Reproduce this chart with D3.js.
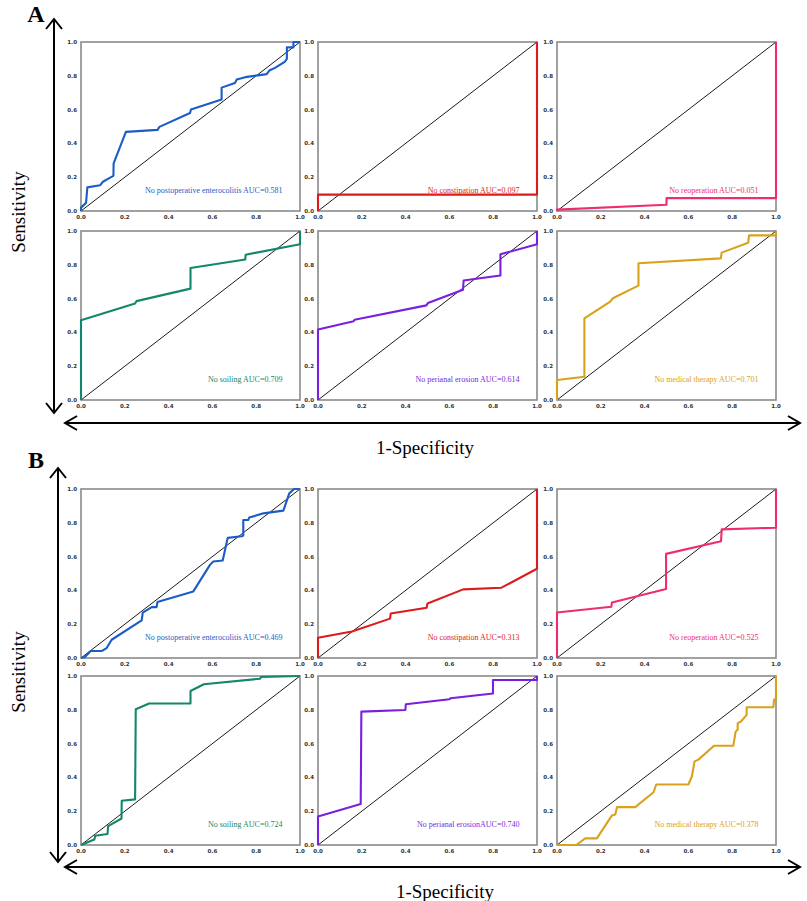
<!DOCTYPE html>
<html>
<head>
<meta charset="utf-8">
<script src="https://cdn.jsdelivr.net/npm/d3@7"></script>
<style>
  body { margin: 0; background: #fff; }
  svg { display: block; }
</style>
</head>
<body>
<svg id="chart"></svg>
<script>
// Outcome names and AUC values for the two groups
const outcomes = ["No postoperative enterocolitis", "No constipation", "No reoperation",
                  "No soiling", "No perianal erosion", "No medical therapy"];
const aucA = ["0.581", "0.097", "0.051", "0.709", "0.614", "0.701"];
const aucB = ["0.469", "0.313", "0.525", "0.724", "0.740", "0.378"];
const labelJoinB = [" ", " ", " ", " ", "", " "]; // "erosionAUC" has no space in panel B
const tickValues = [0, 0.2, 0.4, 0.6, 0.8, 1.0];
const tickLabels = ["0.0", "0.2", "0.4", "0.6", "0.8", "1.0"];

// ROC points [1-specificity, sensitivity]
const rocA_enterocolitis = [[0,0],[0,0.02],[0.023,0.048],[0.029,0.14],[0.087,0.152],[0.1,0.173],[0.125,0.192],
  [0.148,0.208],[0.149,0.282],[0.205,0.468],[0.35,0.48],[0.358,0.498],[0.498,0.58],[0.502,0.6],[0.642,0.66],
  [0.642,0.73],[0.703,0.758],[0.711,0.778],[0.75,0.792],[0.848,0.81],[0.86,0.831],[0.886,0.847],[0.93,0.883],
  [0.94,0.9],[0.94,0.968],[0.97,0.968],[0.97,1],[1,1]];
const rocA_constipation = [[0,0],[0,0.097],[1,0.097],[1,1]];
const rocA_reoperation = [[0,0],[0,0.008],[0.5,0.037],[0.5,0.076],[1,0.076],[1,1]];
const rocA_soiling = [[0,0],[0,0.472],[0.247,0.571],[0.253,0.585],[0.5,0.659],[0.5,0.781],[0.75,0.831],
  [0.752,0.86],[1,0.922],[1,1]];
const rocA_erosion = [[0,0],[0,0.417],[0.163,0.466],[0.167,0.475],[0.495,0.56],[0.502,0.574],[0.662,0.652],
  [0.665,0.707],[0.723,0.717],[0.833,0.737],[0.833,0.862],[1,0.921],[1,1]];
const rocA_therapy = [[0,0],[0,0.118],[0.125,0.138],[0.125,0.483],[0.243,0.582],[0.255,0.602],[0.372,0.677],
  [0.372,0.809],[0.748,0.838],[0.752,0.872],[0.873,0.931],[0.877,0.974],[1,0.974],[1,1]];

const rocB_enterocolitis = [[0,0],[0.018,0.006],[0.044,0.041],[0.094,0.041],[0.117,0.059],[0.14,0.108],
  [0.277,0.222],[0.282,0.268],[0.323,0.301],[0.345,0.301],[0.349,0.331],[0.513,0.394],[0.589,0.551],
  [0.604,0.571],[0.647,0.577],[0.67,0.711],[0.734,0.72],[0.741,0.724],[0.741,0.817],[0.764,0.817],
  [0.768,0.831],[0.833,0.856],[0.924,0.872],[0.932,0.902],[0.951,0.974],[0.973,1],[1,1]];
const rocB_constipation = [[0,0],[0,0.12],[0.155,0.157],[0.329,0.233],[0.332,0.263],[0.496,0.297],[0.5,0.323],
  [0.663,0.406],[0.838,0.416],[1,0.528],[1,1]];
const rocB_reoperation = [[0,0],[0,0.269],[0.248,0.303],[0.251,0.329],[0.498,0.408],[0.498,0.616],
  [0.749,0.691],[0.752,0.761],[1,0.771],[1,1]];
const rocB_soiling = [[0,0],[0.061,0.033],[0.065,0.055],[0.121,0.065],[0.124,0.112],[0.185,0.157],
  [0.186,0.262],[0.247,0.27],[0.25,0.803],[0.311,0.837],[0.5,0.837],[0.5,0.911],[0.561,0.951],
  [0.818,0.984],[0.821,0.994],[1,1]];
const rocB_erosion = [[0,0],[0,0.169],[0.195,0.242],[0.198,0.789],[0.399,0.799],[0.401,0.833],[0.6,0.862],
  [0.605,0.868],[0.799,0.896],[0.799,0.976],[1,0.976],[1,1]];
const rocB_therapy = [[0,0],[0.088,0],[0.129,0.039],[0.182,0.039],[0.251,0.175],[0.266,0.181],[0.274,0.224],
  [0.357,0.224],[0.441,0.312],[0.453,0.358],[0.6,0.358],[0.616,0.407],[0.628,0.495],[0.646,0.505],
  [0.717,0.587],[0.805,0.587],[0.816,0.672],[0.825,0.682],[0.825,0.721],[0.84,0.731],[0.866,0.77],
  [0.866,0.815],[0.988,0.815],[0.991,0.859],[1,0.868],[1,1]];

const curveColors = ["#1a5cc8", "#dd1b1b", "#ee2d6e", "#14876a", "#7a1fe0", "#d9a21b"];

const width = 807;
const height = 901;
const plotW = 219;
const plotH = 169;
const colLeft = [81, 318, 557];

const groups = [
  { letter: "A", rows: [42, 231], auc: aucA, join: [" ", " ", " ", " ", " ", " "],
    curves: [rocA_enterocolitis, rocA_constipation, rocA_reoperation, rocA_soiling, rocA_erosion, rocA_therapy],
    letterPos: [36, 22], vArrow: [54, 19, 413], hArrow: [423, 65, 800], sensY: 212, specX: 425 },
  { letter: "B", rows: [489, 676], auc: aucB, join: labelJoinB,
    curves: [rocB_enterocolitis, rocB_constipation, rocB_reoperation, rocB_soiling, rocB_erosion, rocB_therapy],
    letterPos: [36, 468], vArrow: [58, 468, 862], hArrow: [867, 65, 800], sensY: 672, specX: 445 }
];

const svg = d3.select("#chart")
  .attr("width", width)
  .attr("height", height);

const x = d3.scaleLinear().domain([0, 1]).range([0, plotW]);
const y = d3.scaleLinear().domain([0, 1]).range([plotH, 0]);
const line = d3.line().x(d => x(d[0])).y(d => y(d[1]));

groups.forEach(g => {
  // panel letter
  svg.append("text")
    .attr("x", g.letterPos[0])
    .attr("y", g.letterPos[1])
    .attr("text-anchor", "middle")
    .style("font-family", "'Liberation Serif', serif")
    .style("font-weight", "bold")
    .style("font-size", "24px")
    .text(g.letter);

  g.curves.forEach((pts, i) => {
    const left = colLeft[i % 3];
    const top = g.rows[Math.floor(i / 3)];
    const p = svg.append("g").attr("transform", `translate(${left},${top})`);

    // frame
    p.append("rect")
      .attr("width", plotW)
      .attr("height", plotH)
      .attr("fill", "none")
      .attr("stroke", "#8a8a8a")
      .attr("stroke-width", 1.6);

    // tick labels
    p.selectAll(".ytick")
      .data(tickValues)
      .enter()
      .append("text")
      .attr("x", -4)
      .attr("y", d => y(d) + 2)
      .attr("text-anchor", "end")
      .style("font-family", "'DejaVu Sans', sans-serif")
      .style("font-weight", "bold")
      .style("font-size", "5.5px")
      .style("fill", "#333")
      .text((d, k) => tickLabels[k]);
    p.selectAll(".xtick")
      .data(tickValues)
      .enter()
      .append("text")
      .attr("x", d => x(d))
      .attr("y", plotH + 8)
      .attr("text-anchor", "middle")
      .style("font-family", "'DejaVu Sans', sans-serif")
      .style("font-weight", "bold")
      .style("font-size", "5.5px")
      .style("fill", "#333")
      .text((d, k) => tickLabels[k]);

    // reference diagonal
    p.append("path")
      .attr("d", line([[0, 0], [1, 1]]))
      .attr("fill", "none")
      .attr("stroke", "#000")
      .attr("stroke-width", 0.9);

    // ROC curve
    p.append("path")
      .attr("d", line(pts))
      .attr("fill", "none")
      .attr("stroke", curveColors[i])
      .attr("stroke-width", 2.1)
      .attr("stroke-linejoin", "round");

    // AUC label
    p.append("text")
      .attr("x", x(0.92))
      .attr("y", y(0.105))
      .attr("text-anchor", "end")
      .style("font-family", "'Liberation Serif', serif")
      .style("font-size", "8px")
      .style("fill", curveColors[i])
      .text(outcomes[i] + g.join[i] + "AUC=" + g.auc[i]);
  });

  // double arrows
  const [vx, vy1, vy2] = g.vArrow;
  const [hy, hx1, hx2] = g.hArrow;
  const arrow = svg.append("g")
    .attr("fill", "none")
    .attr("stroke", "#000")
    .attr("stroke-width", 2);
  arrow.append("line").attr("x1", vx).attr("y1", vy1).attr("x2", vx).attr("y2", vy2);
  arrow.append("path").attr("d", `M${vx - 8},${vy1 + 10}L${vx},${vy1}L${vx + 8},${vy1 + 10}`);
  arrow.append("path").attr("d", `M${vx - 8},${vy2 - 10}L${vx},${vy2}L${vx + 8},${vy2 - 10}`);
  arrow.append("line").attr("x1", hx1).attr("y1", hy).attr("x2", hx2).attr("y2", hy);
  arrow.append("path").attr("d", `M${hx1 + 12},${hy - 7}L${hx1},${hy}L${hx1 + 12},${hy + 7}`);
  arrow.append("path").attr("d", `M${hx2 - 12},${hy - 7}L${hx2},${hy}L${hx2 - 12},${hy + 7}`);

  // axis titles
  svg.append("text")
    .attr("transform", `translate(25,${g.sensY}) rotate(-90)`)
    .attr("text-anchor", "middle")
    .style("font-family", "'Liberation Serif', serif")
    .style("font-size", "19px")
    .text("Sensitivity");
  svg.append("text")
    .attr("x", g.specX)
    .attr("y", hy + 31)
    .attr("text-anchor", "middle")
    .style("font-family", "'Liberation Serif', serif")
    .style("font-size", "19px")
    .text("1-Specificity");
});
</script>
</body>
</html>
